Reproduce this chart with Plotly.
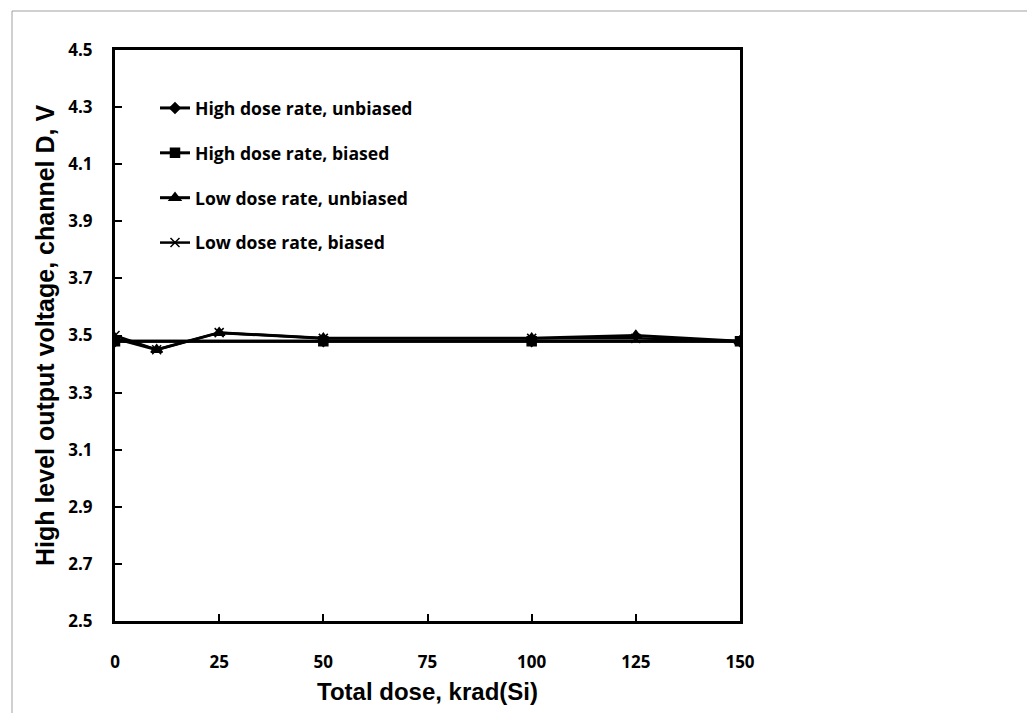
import plotly.graph_objects as go

# Data
dose_high = [0, 50, 100, 150]
dose_low = [0, 10, 25, 50, 100, 125, 150]

high_unbiased = [3.48, 3.48, 3.48, 3.48]
high_biased = [3.48, 3.48, 3.48, 3.48]
low_unbiased = [3.49, 3.45, 3.51, 3.49, 3.49, 3.50, 3.48]
low_biased = [3.50, 3.45, 3.51, 3.49, 3.49, 3.49, 3.48]

names = ["High dose rate, unbiased", "High dose rate, biased",
         "Low dose rate, unbiased", "Low dose rate, biased"]
y_ticks = [2.5, 2.7, 2.9, 3.1, 3.3, 3.5, 3.7, 3.9, 4.1, 4.3, 4.5]
x_ticks = [0, 25, 50, 75, 100, 125, 150]

W, H = 1035, 713
L, R, T, B = 107, 732, 42, 613

fig = go.Figure()
series = [
    (dose_high, high_unbiased, names[0], "diamond", 8, 3),
    (dose_high, high_biased, names[1], "square", 9, 3),
    (dose_low, low_unbiased, names[2], "triangle-up", 10, 3),
    (dose_low, low_biased, names[3], "x-thin", 9, 2.5),
]
for i, (xs, ys, nm, sym, sz, lw) in enumerate(series):
    fig.add_trace(go.Scatter(
        x=xs, y=ys, name=nm, mode="lines+markers",
        line=dict(color="black", width=lw),
        marker=dict(symbol=sym, size=sz, color="black",
                    line=dict(color="black", width=1.5)),
        legendgroup=f"g{i}",
    ))

tick_font = dict(family="'Open Sans', Lato, sans-serif", size=17, color="black", weight="bold")
x_title_font = dict(family="'Liberation Sans', Arial, sans-serif", size=24, color="black", weight="bold")
y_title_font = dict(family="'Liberation Sans', Arial, sans-serif", size=25, color="black", weight="bold")

fig.update_layout(
    width=W, height=H,
    margin=dict(l=L, r=W - R, t=T, b=H - B, pad=0),
    paper_bgcolor="white", plot_bgcolor="white",
    showlegend=True,
    legend=dict(
        x=(147 - L) / (R - L), y=(B - 82) / (B - T),
        xanchor="left", yanchor="top",
        bgcolor="rgba(0,0,0,0)",
        font=dict(family="'Open Sans', Lato, sans-serif", size=17.6, color="black", weight="bold"),
        traceorder="grouped", tracegroupgap=19,
        itemwidth=30,
    ),
    xaxis=dict(
        range=[0, 150], tickvals=x_ticks, ticktext=[str(v) for v in x_ticks],
        showgrid=False, zeroline=False,
        showline=True, linecolor="black", linewidth=3, mirror=True,
        ticks="inside", ticklen=7, tickwidth=2, tickcolor="black",
        tickfont=tick_font, ticklabelstandoff=24,
        title=dict(text="Total dose, krad(Si)", font=x_title_font, standoff=11),
    ),
    yaxis=dict(
        range=[2.5, 4.5], tickvals=y_ticks, ticktext=[f"{v:.1f}" for v in y_ticks],
        showgrid=False, zeroline=False,
        showline=True, linecolor="black", linewidth=3, mirror=True,
        ticks="inside", ticklen=7, tickwidth=2, tickcolor="black",
        tickfont=tick_font, ticklabelstandoff=16,
        title=dict(text="High level output voltage, channel D, V", font=y_title_font, standoff=7),
    ),
    shapes=[dict(
        type="rect", xref="paper", yref="paper",
        x0=(4 - L) / (R - L), x1=(1030 - L) / (R - L),
        y0=(B - 706) / (B - T), y1=(B - 3) / (B - T),
        line=dict(color="#a0a0a0", width=1), fillcolor="rgba(0,0,0,0)", layer="below",
    )],
)

fig.write_html("out.html")
